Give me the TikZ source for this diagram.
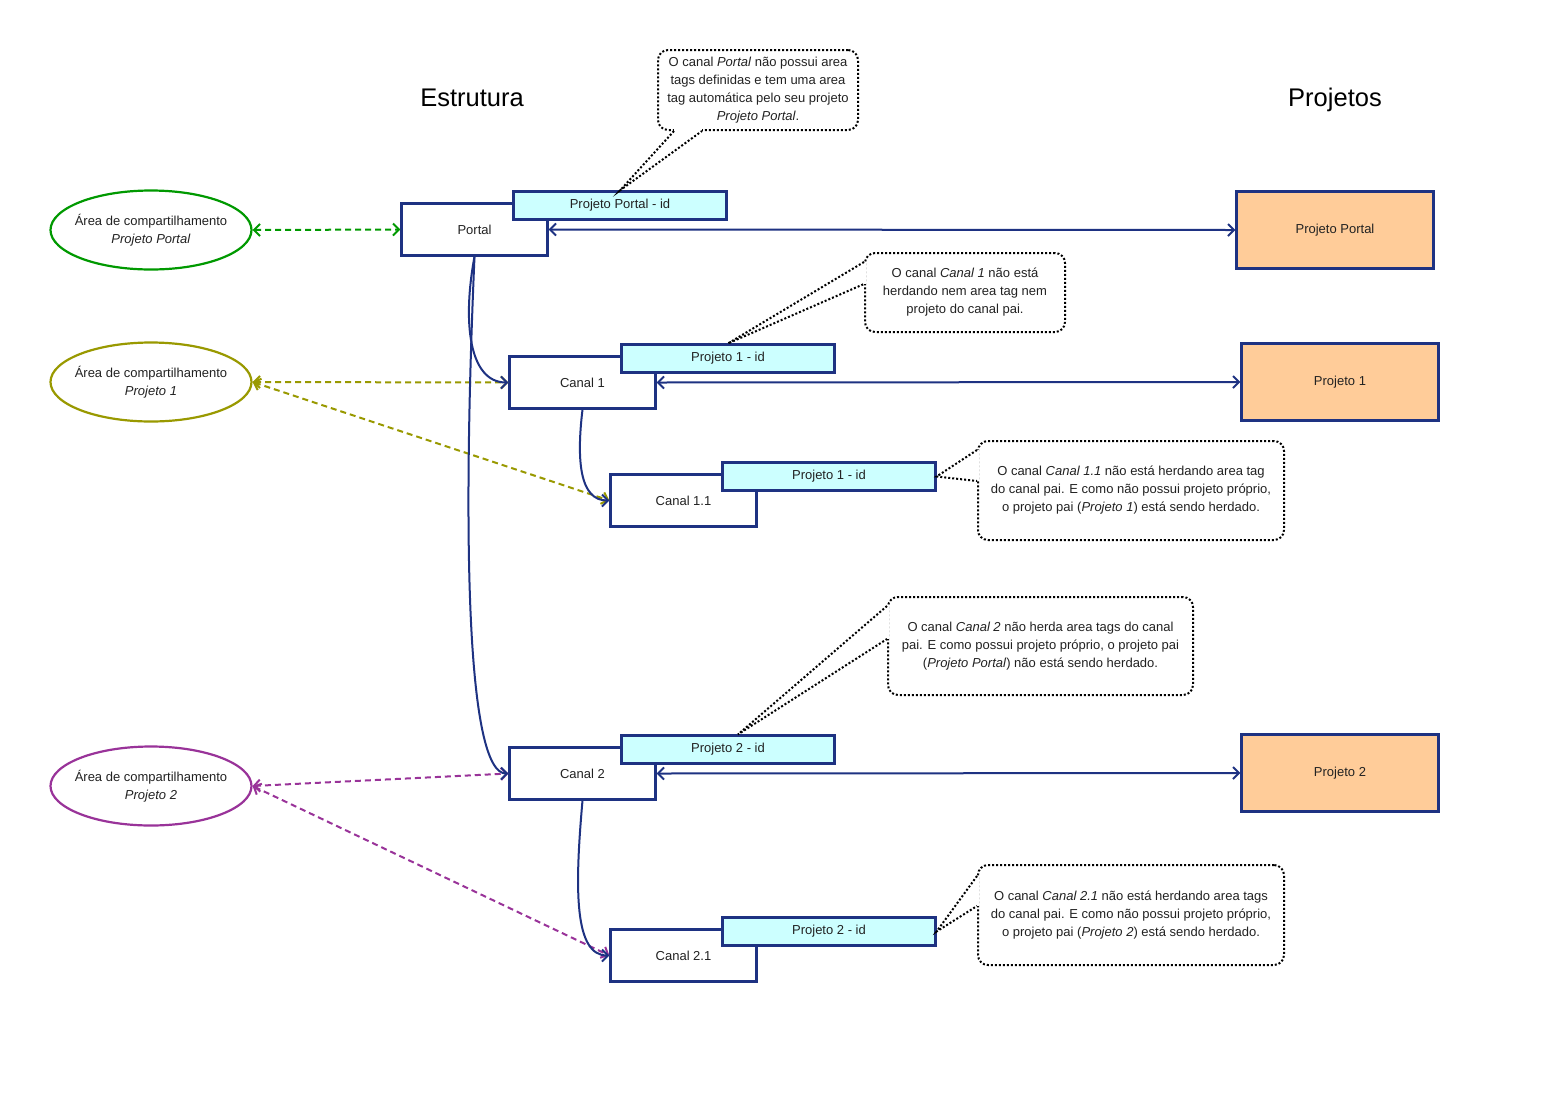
\documentclass[tikz,border=0pt]{standalone}
\usepackage{fontspec}
\setmainfont{Liberation Sans}
\usetikzlibrary{arrows.meta,calc,shapes.geometric}
\definecolor{boxblue}{HTML}{1E3282}
\definecolor{tagcyan}{HTML}{CCFFFF}
\definecolor{projorange}{HTML}{FFCC99}
\definecolor{sharegreen}{HTML}{009900}
\definecolor{shareolive}{HTML}{999900}
\definecolor{sharepurple}{HTML}{993399}
\definecolor{txt}{HTML}{222222}
\begin{document}
\begin{tikzpicture}[x=1pt,y=-1pt,
  >={Straight Barb[length=6pt,width=12pt]},
  every node/.style={text=txt, font=\fontsize{13}{18}\selectfont},
  chanbox/.style={draw=boxblue, line width=2.2pt, fill=white, minimum width=146pt, minimum height=52pt, inner sep=0pt},
  tagbox/.style={draw=boxblue, line width=2.2pt, fill=tagcyan, minimum width=213pt, minimum height=28pt, inner sep=0pt},
  projbox/.style={draw=boxblue, line width=2.2pt, fill=projorange, minimum width=197pt, minimum height=77pt, inner sep=0pt},
  areaell/.style={ellipse, draw=#1, line width=2.2pt, minimum width=201pt, minimum height=79pt, inner sep=0pt},
  arealabel/.style={align=center, inner sep=0pt},
  notebox/.style={draw=black, line width=2pt, dash pattern=on 2pt off 2pt, rounded corners=10pt, align=center, fill=white, inner sep=0pt},
  notetail/.style={draw=black, line width=2pt, dash pattern=on 2pt off 2pt},
  notecover/.style={draw=white, line width=3.5pt},
  linkline/.style={draw=boxblue, line width=2pt},
  shareline/.style={draw=#1, line width=2pt, dash pattern=on 6pt off 4pt},
  titletext/.style={text=black, font=\fontsize{25.5}{30}\selectfont, anchor=base}
]
\useasboundingbox[fill=white] (0,0) rectangle (1543,1096);

% titles
\node[titletext] (tEst) at (472,106) {Estrutura};
\node[titletext] (tProj) at (1335,106) {Projetos};

% sharing areas
\node[areaell=sharegreen] (a0) at (151,230) {};
\node[arealabel] (a0t) at (a0.center) {Área de compartilhamento\\\textit{Projeto Portal}};
\node[areaell=shareolive] (a1) at (151,382) {};
\node[arealabel] (a1t) at (a1.center) {Área de compartilhamento\\\textit{Projeto 1}};
\node[areaell=sharepurple] (a2) at (151,786) {};
\node[arealabel] (a2t) at (a2.center) {Área de compartilhamento\\\textit{Projeto 2}};

% channels
\node[chanbox] (portal) at (474.5,229.5) {Portal};
\node[chanbox] (c1) at (582.5,382.5) {Canal 1};
\node[chanbox] (c11) at (683.5,500.5) {Canal 1.1};
\node[chanbox] (c2) at (582.5,773.5) {Canal 2};
\node[chanbox] (c21) at (683.5,955.5) {Canal 2.1};

% tags
\node[tagbox] (tagp) at (620,205.5) {Projeto Portal - id};
\node[tagbox] (tag1) at (728,358.5) {Projeto 1 - id};
\node[tagbox] (tag11) at (829,476.5) {Projeto 1 - id};
\node[tagbox] (tag2) at (728,749.5) {Projeto 2 - id};
\node[tagbox] (tag21) at (829,931.5) {Projeto 2 - id};

% projects
\node[projbox] (pp) at (1335,230) {Projeto Portal};
\node[projbox] (p1) at (1340,382) {Projeto 1};
\node[projbox] (p2) at (1340,773) {Projeto 2};

% notes
\node[notebox, minimum width=200pt, minimum height=80pt] (n1) at (758,90)
  {O canal \textit{Portal} não possui area\\tags definidas e tem uma area\\tag automática pelo seu projeto\\\textit{Projeto Portal}.};
\node[notebox, minimum width=200pt, minimum height=79pt] (n2) at (965,292.5)
  {O canal \textit{Canal 1} não está\\herdando nem area tag nem\\projeto do canal pai.};
\node[notebox, minimum width=306pt, minimum height=99pt] (n3) at (1131,490.5)
  {O canal \textit{Canal 1.1} não está herdando area tag\\do canal pai. E como não possui projeto próprio,\\o projeto pai (\textit{Projeto 1}) está sendo herdado.};
\node[notebox, minimum width=305pt, minimum height=98pt] (n4) at (1040.5,646)
  {O canal \textit{Canal 2} não herda area tags do canal\\pai. E como possui projeto próprio, o projeto pai\\(\textit{Projeto Portal}) não está sendo herdado.};
\node[notebox, minimum width=306pt, minimum height=100pt] (n5) at (1131,915)
  {O canal \textit{Canal 2.1} não está herdando area tags\\do canal pai. E como não possui projeto próprio,\\o projeto pai (\textit{Projeto 2}) está sendo herdado.};

% note tails
\coordinate (n1a) at ($(n1.south west)+(17,0)$);
\coordinate (n1b) at ($(n1.south west)+(45,0)$);
\draw[notecover] (n1a) -- (n1b);
\draw[notetail] (n1a) -- (tagp.north) -- (n1b);

\coordinate (n2a) at ($(n2.north west)+(0,10)$);
\coordinate (n2b) at ($(n2.north west)+(0,32)$);
\draw[notecover] (n2a) -- (n2b);
\draw[notetail] (n2a) -- (tag1.north) -- (n2b);

\coordinate (n3a) at ($(n3.north west)+(0,10)$);
\coordinate (n3b) at ($(n3.north west)+(0,41)$);
\draw[notecover] (n3a) -- (n3b);
\draw[notetail] (n3a) -- (tag11.east) -- (n3b);

\coordinate (n4a) at ($(n4.north west)+(0,10)$);
\coordinate (n4b) at ($(n4.north west)+(0,43)$);
\coordinate (tag2tip) at ($(tag2.north)+(10,0)$);
\draw[notecover] (n4a) -- (n4b);
\draw[notetail] (n4a) -- (tag2tip) -- (n4b);

\coordinate (n5a) at ($(n5.north west)+(0,12)$);
\coordinate (n5b) at ($(n5.north west)+(0,42)$);
\draw[notecover] (n5a) -- (n5b);
\draw[notetail] (n5a) -- (tag21.east) -- (n5b);

% project links
\draw[linkline,<->] (portal.east) -- (pp.west);
\draw[linkline,<->] (c1.east) -- (p1.west);
\draw[linkline,<->] (c2.east) -- (p2.west);

% sharing links
\draw[shareline=sharegreen,<->] (a0.east) -- (portal.west);
\draw[shareline=shareolive,<->] (a1.east) -- (c1.west);
\draw[shareline=shareolive,<->] (a1.east) -- (c11.west);
\draw[shareline=sharepurple,<->] (a2.east) -- (c2.west);
\draw[shareline=sharepurple,<->] (a2.east) -- (c21.west);

% hierarchy
\draw[linkline,->] (portal.south) .. controls +(-12,64) and +(-40,0) .. (c1.west);
\draw[linkline,->] (portal.south) .. controls +(-13,300) and +(-40,0) .. (c2.west);
\draw[linkline,->] (c1.south) .. controls +(-6,50) and +(-30,0) .. (c11.west);
\draw[linkline,->] (c2.south) .. controls +(-8,90) and +(-35,0) .. (c21.west);
\end{tikzpicture}
\end{document}
